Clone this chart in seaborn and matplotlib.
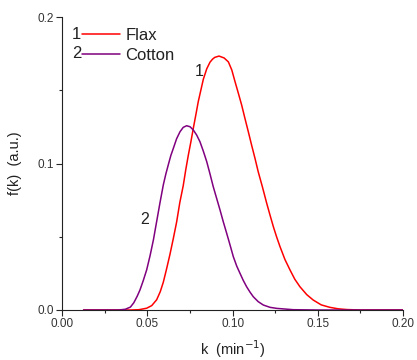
import numpy as np
import pandas as pd
import matplotlib
matplotlib.use("Agg")
import matplotlib.pyplot as plt
from matplotlib.ticker import MultipleLocator, FormatStrFormatter
from matplotlib.lines import Line2D
import seaborn as sns

# values
flax_k = [0.0125, 0.040, 0.045, 0.0495, 0.0525, 0.0554, 0.0575, 0.0593, 0.0612,
          0.0632, 0.0652, 0.0671, 0.069, 0.071, 0.0725, 0.074, 0.0755, 0.0769,
          0.0785, 0.0798, 0.0813, 0.0828, 0.0848, 0.0867, 0.0882, 0.0895, 0.092,
          0.095, 0.0975, 0.0995, 0.1014, 0.1033, 0.1053, 0.1072, 0.1092, 0.1111,
          0.1131, 0.115, 0.1175, 0.120, 0.1219, 0.1239, 0.1258, 0.1278, 0.1307,
          0.1337, 0.1365, 0.1395, 0.1435, 0.1473, 0.152, 0.1571, 0.162, 0.167,
          0.175, 0.200]
flax_f = [0.0, 0.0, 0.0002, 0.0012, 0.003, 0.007, 0.0125, 0.019, 0.028,
          0.038, 0.049, 0.060, 0.0735, 0.085, 0.096, 0.1059, 0.115, 0.1241,
          0.134, 0.1423, 0.150, 0.1577, 0.1648, 0.1693, 0.1714, 0.1726, 0.1735,
          0.1722, 0.1695, 0.164, 0.156, 0.1483, 0.140, 0.131, 0.1218, 0.1128,
          0.1037, 0.0945, 0.084, 0.0729, 0.065, 0.0569, 0.050, 0.0433, 0.0345,
          0.0273, 0.021, 0.0159, 0.0105, 0.0068, 0.0035, 0.0018, 0.0008, 0.0003,
          0.0, 0.0]

cotton_k = [0.0125, 0.033, 0.037, 0.040, 0.042, 0.044, 0.0456, 0.0475, 0.0495,
            0.0515, 0.0535, 0.0554, 0.0573, 0.0593, 0.0608, 0.0622, 0.0637,
            0.0652, 0.0671, 0.0691, 0.071, 0.073, 0.075, 0.0769, 0.0789, 0.0808,
            0.0828, 0.0848, 0.0867, 0.0886, 0.0906, 0.0926, 0.0945, 0.0965,
            0.0985, 0.1004, 0.1024, 0.1043, 0.1062, 0.1082, 0.1102, 0.1121,
            0.115, 0.118, 0.122, 0.1259, 0.1356, 0.150, 0.200]
cotton_f = [0.0, 0.0, 0.0005, 0.002, 0.005, 0.0095, 0.0137, 0.020, 0.0273,
            0.037, 0.048, 0.0605, 0.073, 0.0855, 0.093, 0.0991, 0.1055,
            0.1105, 0.117, 0.1218, 0.1248, 0.1259, 0.1252, 0.123, 0.1195, 0.115,
            0.1085, 0.1013, 0.093, 0.0843, 0.0763, 0.0683, 0.0603, 0.0524,
            0.0443, 0.0364, 0.030, 0.0251, 0.0203, 0.0159, 0.0122, 0.0091,
            0.0057, 0.0034, 0.0018, 0.0011, 0.0002, 0.0, 0.0]

series_names = ["Flax", "Cotton"]
series_numbers = ["1", "2"]
series_colors = ["#ff0000", "#800080"]

df = pd.concat([
    pd.DataFrame({"k": flax_k, "f": flax_f, "fibre": "Flax"}),
    pd.DataFrame({"k": cotton_k, "f": cotton_f, "fibre": "Cotton"}),
])

sns.set_style("ticks")
plt.rcParams["font.family"] = ["Liberation Sans", "DejaVu Sans"]

fig = plt.figure(figsize=(4.17, 3.6), dpi=100)
ax = fig.add_axes([0.1494, 0.1389, 0.8170, 0.8131])

sns.lineplot(data=df, x="k", y="f", hue="fibre", hue_order=series_names,
             palette=series_colors, estimator=None, sort=False,
             linewidth=1.1, legend=False, ax=ax)

ax.set_xlim(0, 0.20)
ax.set_ylim(0, 0.2)
ax.xaxis.set_major_locator(MultipleLocator(0.05))
ax.xaxis.set_minor_locator(MultipleLocator(0.025))
ax.yaxis.set_major_locator(MultipleLocator(0.1))
ax.yaxis.set_minor_locator(MultipleLocator(0.05))
ax.xaxis.set_major_formatter(FormatStrFormatter("%.2f"))
ax.yaxis.set_major_formatter(FormatStrFormatter("%.1f"))
ax.tick_params(which="major", direction="out", length=4, width=0.8,
               labelsize=8.5, labelcolor="#333333", pad=2)
ax.tick_params(which="minor", direction="out", length=2.5, width=0.8)
sns.despine(ax=ax)
for s in ["left", "bottom"]:
    ax.spines[s].set_linewidth(0.8)
    ax.spines[s].set_color("#222222")

ax.set_xlabel("k  (min$^{-1}$)", fontsize=10.5, color="#222222", labelpad=6)
ax.set_ylabel("f(k)  (a.u.)", fontsize=10.5, color="#222222", labelpad=11)

# curve numbers
ax.text(0.0802, 0.163, "1", fontsize=11.5, ha="center", va="center", color="#222222")
ax.text(0.0486, 0.0615, "2", fontsize=11.5, ha="center", va="center", color="#222222")

# legend with numbered entries
handles = [Line2D([], [], color=c, linewidth=1.1) for c in series_colors]
leg = ax.legend(handles, series_names, loc="upper left",
                bbox_to_anchor=(82 / 417, 1 - 28 / 360),
                bbox_transform=fig.transFigure, frameon=False, fontsize=12,
                handlelength=2.3, handletextpad=0.3, labelspacing=0.28,
                borderaxespad=0, borderpad=0)
for t in leg.get_texts():
    t.set_color("#222222")
fig.canvas.draw()
for num, line in zip(series_numbers, leg.get_lines()):
    xd = line.get_xdata()
    yd = line.get_ydata()
    disp = line.get_transform().transform((xd[0], yd[0]))
    ax.annotate(num, xy=disp, xycoords="figure pixels", xytext=(-0.5, 0),
                textcoords="offset points", ha="right", va="center",
                fontsize=12, color="#222222")

fig.savefig("out.png", dpi=100)
